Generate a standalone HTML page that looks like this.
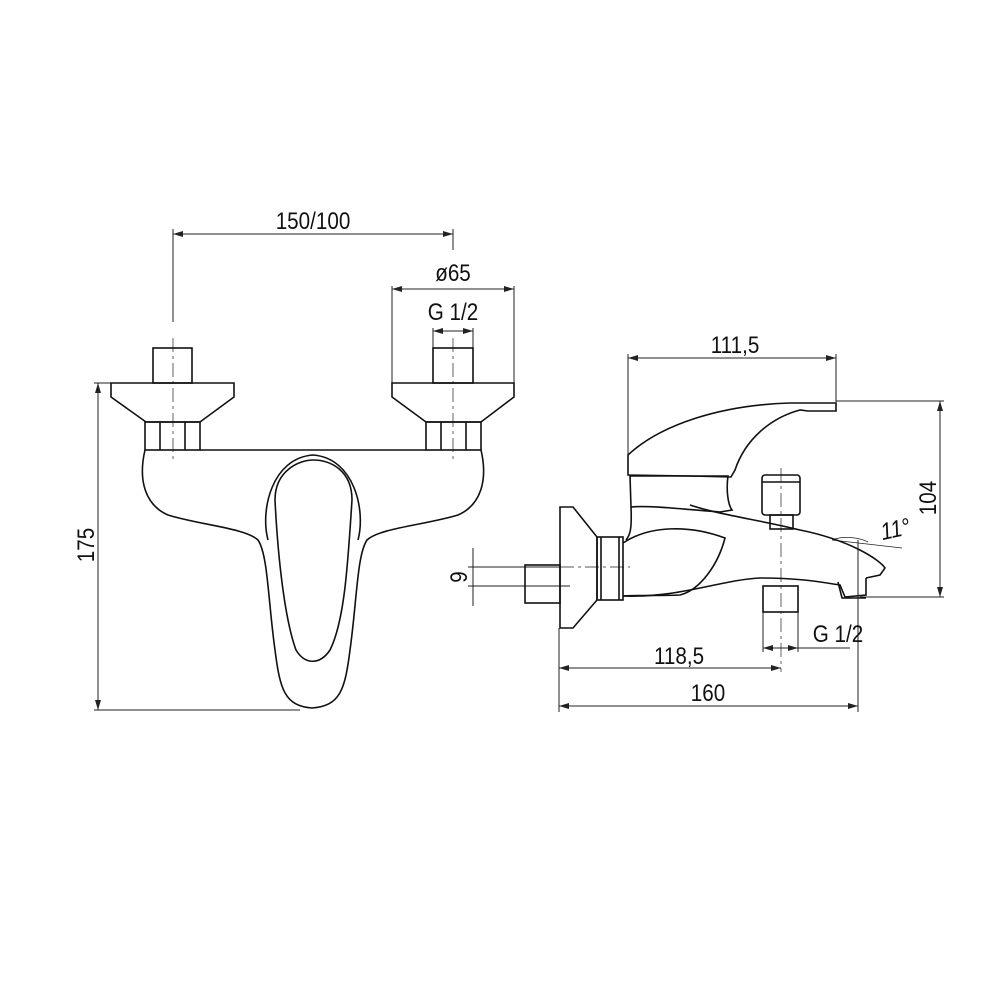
<!DOCTYPE html>
<html><head><style>body{margin:0;background:#fff}svg{display:block}text{font-family:"Liberation Sans",sans-serif;fill:#111}</style></head>
<body>
<svg width="1000" height="1000" viewBox="0 0 1000 1000" xmlns="http://www.w3.org/2000/svg">
<defs><marker id="a" viewBox="0 0 10 6" refX="10" refY="3" markerWidth="10" markerHeight="6" orient="auto-start-reverse" markerUnits="userSpaceOnUse"><path d="M0,0L10,3L0,6z" fill="#222"/></marker></defs>
<g fill="none" stroke="#222" stroke-width="1">
<line x1="173" y1="234" x2="453" y2="234" marker-start="url(#a)" marker-end="url(#a)"/>
<line x1="173" y1="229" x2="173" y2="322"/><line x1="453" y1="229" x2="453" y2="250"/>
<line x1="392" y1="289" x2="514" y2="289" marker-start="url(#a)" marker-end="url(#a)"/>
<line x1="392" y1="286" x2="392" y2="385"/><line x1="514" y1="286" x2="514" y2="385"/>
<line x1="433" y1="331" x2="473" y2="331" marker-start="url(#a)" marker-end="url(#a)"/>
<line x1="433" y1="328" x2="433" y2="348"/><line x1="473" y1="328" x2="473" y2="348"/>
<line x1="98" y1="383" x2="98" y2="710" marker-start="url(#a)" marker-end="url(#a)"/>
<line x1="94" y1="383" x2="111" y2="383"/><line x1="94" y1="710" x2="300" y2="710"/>
<line x1="173" y1="338" x2="173" y2="460" stroke-dasharray="14,4,3,4" stroke-width=".7"/>
<line x1="453" y1="338" x2="453" y2="460" stroke-dasharray="14,4,3,4" stroke-width=".7"/>
</g>
<g fill="none" stroke="#111" stroke-width="1.6">
<rect x="153" y="348" width="39" height="35"/>
<path d="M111,383H234V397L200,422H146L111,397Z"/>
<rect x="145" y="422" width="55" height="28"/><line x1="160" y1="422" x2="160" y2="450"/><line x1="185" y1="422" x2="185" y2="450"/>
<rect x="433" y="348" width="40" height="35"/>
<path d="M392,383H514V397L481,422H426L392,397Z"/>
<rect x="426" y="422" width="55" height="28"/><line x1="441" y1="422" x2="441" y2="450"/><line x1="466" y1="422" x2="466" y2="450"/>
<line x1="200" y1="450" x2="426" y2="450"/>
<path d="M145,450C138,480 145,505 168,515C200,525 245,528 258,540C268,555 268,600 275,650C280,690 285,706 312,708C340,706 345,690 350,650C357,600 357,555 367,540C380,528 425,525 458,515C481,505 488,480 481,450"/>
<path d="M268,540C260,510 272,458 313,455C354,458 366,510 358,540"/>
<path d="M275,500C275,470 300,460 313,460C330,460 352,470 352,500C348,560 345,620 330,650C320,665 305,665 296,650C285,620 278,560 275,500Z"/>
</g>
<g fill="none" stroke="#222" stroke-width="1">
<line x1="628" y1="358" x2="836" y2="358" marker-start="url(#a)" marker-end="url(#a)"/>
<line x1="628" y1="354" x2="628" y2="475"/><line x1="836" y1="354" x2="836" y2="402"/>
<line x1="940" y1="401" x2="940" y2="597" marker-start="url(#a)" marker-end="url(#a)"/>
<line x1="836" y1="401" x2="944" y2="401"/><line x1="860" y1="597" x2="944" y2="597"/>
<line x1="473" y1="548" x2="473" y2="606"/><line x1="468" y1="567" x2="560" y2="567"/><line x1="468" y1="586" x2="570" y2="586"/>
<line x1="510" y1="567" x2="630" y2="567" stroke-dasharray="14,4,3,4" stroke-width=".7"/>
<line x1="781" y1="468" x2="781" y2="672" stroke-dasharray="14,4,3,4" stroke-width=".7"/>
<line x1="763" y1="612" x2="763" y2="652"/><line x1="798" y1="612" x2="798" y2="652"/>
<line x1="763" y1="648" x2="798" y2="648" marker-start="url(#a)" marker-end="url(#a)"/><line x1="798" y1="648" x2="850" y2="648"/>
<line x1="559" y1="668" x2="781" y2="668" marker-start="url(#a)" marker-end="url(#a)"/>
<line x1="559" y1="706" x2="858" y2="706" marker-start="url(#a)" marker-end="url(#a)"/>
<line x1="559" y1="628" x2="559" y2="712"/><line x1="858" y1="540" x2="858" y2="712"/>
<path d="M832,540L902,548M832,540C845,535 860,538 868,542" stroke-width=".8"/>
</g>
<g fill="none" stroke="#111" stroke-width="1.6">
<path d="M628,475V455C660,425 720,405 790,403H836V411H808L800,410C770,418 745,440 735,470L731,477L690,476Z"/>
<path d="M630,476H728C726,490 728,505 732,510L720,512C690,510 650,505 631,507Z"/>
<path d="M631,507C632,530 630,535 626,540"/>
<rect x="525" y="565" width="35" height="38"/>
<path d="M560,507H573L597,537V600L573,628H560Z"/>
<rect x="597" y="537" width="26" height="63"/><line x1="601" y1="537" x2="601" y2="600"/><line x1="619" y1="537" x2="619" y2="600"/>
<path d="M623,543C650,525 690,525 725,538C718,565 700,590 680,595C660,596 640,595 623,596"/>
<path d="M690,505C720,515 760,520 800,530C850,540 880,560 885,568L880,575L866,578"/>
<path d="M623,596C680,598 720,580 760,578C800,578 820,582 840,585L845,597L866,595V578"/>
<path d="M838,582L842,598H866"/>
<rect x="762" y="475" width="38" height="40" rx="3"/><line x1="762" y1="482" x2="800" y2="482"/>
<rect x="770" y="515" width="23" height="14"/>
<rect x="763" y="586" width="35" height="26"/>
</g>
<g font-size="24" text-anchor="middle">
<text transform="translate(313,229) scale(0.86,1)">150/100</text>
<text transform="translate(453,281) scale(0.86,1)">ø65</text>
<text transform="translate(453,320) scale(0.86,1)">G 1/2</text>
<text transform="translate(94,545) rotate(-90) scale(0.86,1)">175</text>
<text transform="translate(735,353) scale(0.86,1)">111,5</text>
<text transform="translate(936,498) rotate(-90) scale(0.86,1)">104</text>
<text transform="translate(467,577) rotate(-90) scale(0.86,1)">9</text>
<text transform="translate(679,664) scale(0.86,1)">118,5</text>
<text transform="translate(708,701) scale(0.86,1)">160</text>
<text transform="translate(838,642) scale(0.86,1)">G 1/2</text>
<text transform="translate(897,537) rotate(-12) scale(0.86,1)" font-style="italic">11°</text>
</g>
</svg>
</body></html>
